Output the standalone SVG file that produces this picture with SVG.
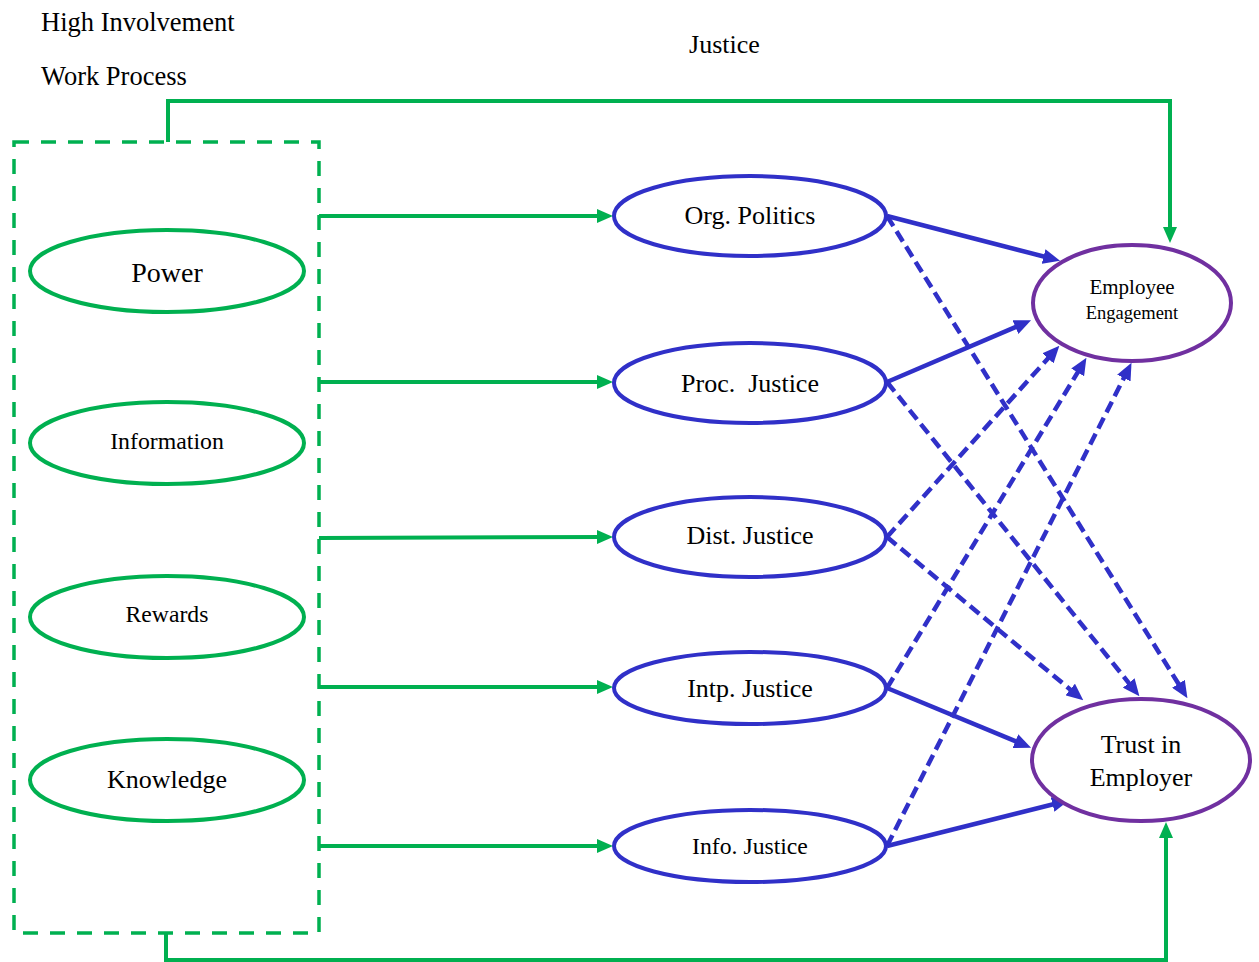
<svg xmlns="http://www.w3.org/2000/svg" width="1259" height="962" viewBox="0 0 1259 962">
<style>
text{font-family:"Liberation Serif","Times New Roman",serif;fill:#000;text-anchor:middle}
.lbl{text-anchor:start}
.g-ell{fill:#fff;stroke:#00B050;stroke-width:4}
.b-ell{fill:#fff;stroke:#3030C8;stroke-width:4}
.p-ell{fill:#fff;stroke:#7030A0;stroke-width:4}
.gline{fill:none;stroke:#00B050;stroke-width:4}
.bsolid{fill:none;stroke:#3030C8;stroke-width:4.5;marker-end:url(#bh)}
.bdash{fill:none;stroke:#3030C8;stroke-width:4.5;stroke-dasharray:12 6;marker-end:url(#bh)}
</style>
<defs>
<marker id="gh" markerUnits="userSpaceOnUse" markerWidth="16" markerHeight="14" refX="8" refY="7" orient="auto"><path d="M0,0 L16,7 L0,14 z" fill="#00B050"/></marker>
<marker id="bh" markerUnits="userSpaceOnUse" markerWidth="17" markerHeight="15" refX="9" refY="7.5" orient="auto"><path d="M0,0 L17,7.5 L0,15 z" fill="#3030C8"/></marker>
</defs>
<rect width="1259" height="962" fill="#fff"/>
<g id="titles">
<text class="lbl" x="41" y="31" font-size="26.5">High Involvement</text>
<text class="lbl" x="41" y="85" font-size="26.5">Work Process</text>
<text x="724.5" y="53" font-size="26">Justice</text>
</g>
<g id="connectors">
<rect x="14" y="142" width="305" height="791" fill="none" stroke="#00B050" stroke-width="3.5" stroke-dasharray="15 12"/>
<path class="gline" d="M168,142 V101 H1170 V235" marker-end="url(#gh)"/>
<path class="gline" stroke-width="3" d="M166,933 V960 H1166 V830" marker-end="url(#gh)"/>
<path class="gline" d="M319,216 H605" marker-end="url(#gh)"/>
<path class="gline" d="M319,382 H605" marker-end="url(#gh)"/>
<path class="gline" d="M319,538 L605,537" marker-end="url(#gh)"/>
<path class="gline" d="M319,687 H605" marker-end="url(#gh)"/>
<path class="gline" d="M319,846 H605" marker-end="url(#gh)"/>
<path class="bsolid" d="M887,216 L1052.3,258.7"/>
<path class="bsolid" d="M887,382 L1023.7,323.5"/>
<path class="bsolid" d="M887,688 L1023.7,744.6"/>
<path class="bsolid" d="M887,846 L1061.3,802.2"/>
<path class="bdash" d="M887,216 L1183.2,691.4"/>
<path class="bdash" d="M887,382 L1134.4,690"/>
<path class="bdash" d="M887,537 L1054,351.7"/>
<path class="bdash" d="M887,537 L1077.1,695.2"/>
<path class="bdash" d="M887,688 L1082.3,364.7"/>
<path class="bdash" d="M887,846 L1127.9,370"/>
</g>
<g id="power"><ellipse class="g-ell" cx="167" cy="271" rx="137" ry="41"/><text x="167" y="282" font-size="28">Power</text></g>
<g id="information"><ellipse class="g-ell" cx="167" cy="443" rx="137" ry="41"/><text x="167" y="449" font-size="23.8">Information</text></g>
<g id="rewards"><ellipse class="g-ell" cx="167" cy="617" rx="137" ry="41"/><text x="167" y="622" font-size="23.7">Rewards</text></g>
<g id="knowledge"><ellipse class="g-ell" cx="167" cy="780" rx="137" ry="41"/><text x="167" y="788" font-size="26">Knowledge</text></g>
<g id="org-politics"><ellipse class="b-ell" cx="750" cy="216" rx="136" ry="40"/><text x="750" y="224" font-size="26">Org. Politics</text></g>
<g id="proc-justice"><ellipse class="b-ell" cx="750" cy="383" rx="136" ry="40"/><text x="750" y="392" font-size="26">Proc.&#160; Justice</text></g>
<g id="dist-justice"><ellipse class="b-ell" cx="750" cy="537" rx="136" ry="40"/><text x="750" y="544" font-size="26">Dist. Justice</text></g>
<g id="intp-justice"><ellipse class="b-ell" cx="750" cy="688" rx="136" ry="36"/><text x="750" y="697" font-size="26">Intp. Justice</text></g>
<g id="info-justice"><ellipse class="b-ell" cx="750" cy="846" rx="136" ry="36"/><text x="750" y="854" font-size="23.7">Info. Justice</text></g>
<g id="employee-engagement"><ellipse class="p-ell" cx="1132" cy="303" rx="99" ry="58"/><text x="1132" y="294" font-size="21">Employee</text><text x="1132" y="319" font-size="18.5">Engagement</text></g>
<g id="trust-in-employer"><ellipse class="p-ell" cx="1141" cy="760" rx="109" ry="61"/><text x="1141" y="753" font-size="26">Trust in</text><text x="1141" y="786" font-size="26">Employer</text></g>
</svg>
